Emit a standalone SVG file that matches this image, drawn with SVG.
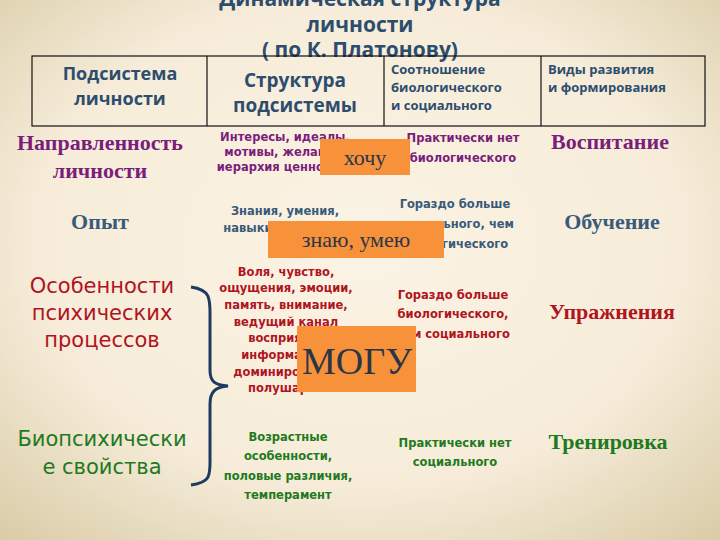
<svg xmlns="http://www.w3.org/2000/svg" width="720" height="540" viewBox="0 0 720 540">
<defs>
<radialGradient id="bg" cx="50%" cy="45%" r="75%">
<stop offset="0" stop-color="#fbf3e4"/><stop offset="0.6" stop-color="#f6ecd9"/><stop offset="1" stop-color="#d9cba6"/>
</radialGradient>
<style>
.t{font-family:"Open Sans","DejaVu Sans",sans-serif;font-weight:bold;fill:#2d4d6e;text-anchor:middle}
.h{font-family:"Open Sans","DejaVu Sans",sans-serif;font-weight:bold;fill:#2d4d6e}
.s{font-family:"Liberation Serif",serif;font-weight:bold;text-anchor:middle;font-size:22px}
.c{font-family:"DejaVu Sans",sans-serif;text-anchor:middle;font-size:11.5px;font-weight:bold}
.b{font-family:"DejaVu Sans",sans-serif;text-anchor:middle;font-size:21px}
.box{fill:#f7923a}
.bt{font-family:"Liberation Serif",serif;fill:#2b3548;text-anchor:middle}
</style>
</defs>
<rect width="720" height="540" fill="url(#bg)"/>
<g id="title">
<text class="t" font-size="21" x="360" y="6">Динамическая структура</text>
<text class="t" font-size="21" x="360" y="32">личности</text>
<text class="t" font-size="21" x="360" y="57">( по К. Платонову)</text>
</g>
<g id="header" fill="none" stroke="#111" stroke-width="1.2">
<rect x="32" y="56" width="673" height="70"/>
<line x1="207" y1="56" x2="207" y2="126"/><line x1="384" y1="56" x2="384" y2="126"/><line x1="541" y1="56" x2="541" y2="126"/>
</g>
<g id="header-text">
<text class="t" font-size="18" x="120" y="80">Подсистема</text>
<text class="t" font-size="18" x="120" y="105">личности</text>
<text class="t" font-size="19" x="295" y="87">Структура</text>
<text class="t" font-size="19" x="295" y="112">подсистемы</text>
<text class="h" font-size="13" x="391" y="74">Соотношение</text>
<text class="h" font-size="13" x="391" y="92">биологического</text>
<text class="h" font-size="13" x="391" y="110">и социального</text>
<text class="h" font-size="13" x="548" y="74">Виды развития</text>
<text class="h" font-size="13" x="548" y="92">и формирования</text>
</g>
<g id="row1">
<text class="s" x="100" y="150" fill="#7a1e7a">Направленность</text>
<text class="s" x="100" y="178" fill="#7a1e7a">личности</text>
<text class="c" x="285" y="141" fill="#7a1e7a">Интересы, идеалы,</text>
<text class="c" x="285" y="156" fill="#7a1e7a">мотивы, желания,</text>
<text class="c" x="285" y="171" fill="#7a1e7a">иерархия ценностей</text>
<text class="c" x="463" y="142" fill="#7a1e7a">Практически нет</text>
<text class="c" x="463" y="162" fill="#7a1e7a">биологического</text>
<text class="s" x="610" y="149" fill="#7a1e7a">Воспитание</text>
</g>
<g id="row2">
<text class="s" x="100" y="229" fill="#3a5a7a">Опыт</text>
<text class="c" x="285" y="215" fill="#3a5a7a">Знания, умения,</text>
<text class="c" x="285" y="232" fill="#3a5a7a">навыки, привычки</text>
<text class="c" x="455" y="208" fill="#3a5a7a">Гораздо больше</text>
<text class="c" x="455" y="228" fill="#3a5a7a">социального, чем</text>
<text class="c" x="455" y="248" fill="#3a5a7a">биологического</text>
<text class="s" x="612" y="229" fill="#3a5a7a">Обучение</text>
</g>
<g id="row3">
<text class="b" x="102" y="293" fill="#b0141e">Особенности</text>
<text class="b" x="102" y="320" fill="#b0141e">психических</text>
<text class="b" x="102" y="347" fill="#b0141e">процессов</text>
<text class="c" x="286" y="276" fill="#b0141e">Воля, чувство,</text>
<text class="c" x="286" y="292" fill="#b0141e">ощущения, эмоции,</text>
<text class="c" x="286" y="309" fill="#b0141e">память, внимание,</text>
<text class="c" x="286" y="326" fill="#b0141e">ведущий канал</text>
<text class="c" x="286" y="342" fill="#b0141e">восприятия</text>
<text class="c" x="286" y="359" fill="#b0141e">информации,</text>
<text class="c" x="286" y="376" fill="#b0141e">доминирование</text>
<text class="c" x="286" y="392" fill="#b0141e">полушарий</text>
<text class="c" x="453" y="299" fill="#b0141e">Гораздо больше</text>
<text class="c" x="453" y="318" fill="#b0141e">биологического,</text>
<text class="c" x="453" y="338" fill="#b0141e">чем социального</text>
<text class="s" x="612" y="319" fill="#b0141e">Упражнения</text>
</g>
<g id="row4">
<text class="b" x="102" y="446" fill="#1e7a1e">Биопсихически</text>
<text class="b" x="102" y="474" fill="#1e7a1e">е свойства</text>
<text class="c" x="288" y="441" fill="#1e7a1e">Возрастные</text>
<text class="c" x="288" y="460" fill="#1e7a1e">особенности,</text>
<text class="c" x="288" y="480" fill="#1e7a1e">половые различия,</text>
<text class="c" x="288" y="499" fill="#1e7a1e">темперамент</text>
<text class="c" x="455" y="447" fill="#1e7a1e">Практически нет</text>
<text class="c" x="455" y="466" fill="#1e7a1e">социального</text>
<text class="s" x="608" y="449" fill="#1e7a1e">Тренировка</text>
</g>
<g id="connectors">
<path d="M191,287 C212,290 210,300 210,320 L210,370 C210,382 215,385 228,386 C215,387 210,392 210,404 L210,455 C210,475 212,482 191,485" fill="none" stroke="#1e3a5e" stroke-width="3"/>
</g>
<g id="box-hochu"><rect class="box" x="320" y="139" width="90" height="36"/><text class="bt" x="365" y="165" font-size="22">хочу</text></g>
<g id="box-znayu"><rect class="box" x="268" y="221" width="176" height="37"/><text class="bt" x="356" y="247" font-size="22">знаю, умею</text></g>
<g id="box-mogu"><rect class="box" x="297" y="326" width="119" height="66"/><text class="bt" x="357" y="374" font-size="38">МОГУ</text></g>
</svg>
